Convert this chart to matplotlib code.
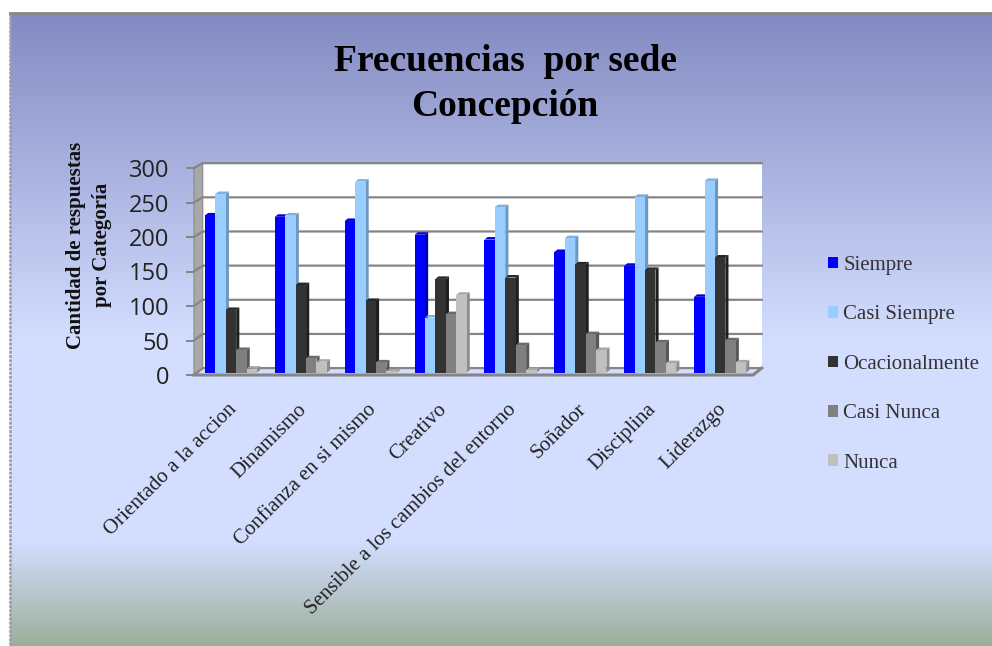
import numpy as np
import matplotlib
matplotlib.use("Agg")
import matplotlib.pyplot as plt
from matplotlib.patches import Polygon, Patch

categorias = ["Orientado a la accion", "Dinamismo", "Confianza en si mismo", "Creativo",
              "Sensible a los cambios del entorno", "Soñador", "Disciplina", "Liderazgo"]
series = ["Siempre", "Casi Siempre", "Ocacionalmente", "Casi Nunca", "Nunca"]
siempre = [228, 226, 220, 200, 193, 175, 155, 110]
casi_siempre = [259, 228, 277, 80, 240, 195, 255, 278]
ocacionalmente = [91, 127, 104, 136, 138, 157, 149, 167]
casi_nunca = [33, 21, 15, 85, 40, 56, 44, 47]
nunca = [6, 16, 2, 113, 4, 33, 14, 15]
valores = [siempre, casi_siempre, ocacionalmente, casi_nunca, nunca]

color_frente = ["#0000FF", "#99CCFF", "#333333", "#808080", "#C0C0C0"]
color_lado = ["#0000A8", "#6C97BE", "#1E1E1E", "#585858", "#8C8C8C"]
color_arriba = ["#0000D0", "#7FB0DC", "#262626", "#6A6A6A", "#A6A6A6"]

W, H = 992, 646
fig = plt.figure(figsize=(W / 100, H / 100), dpi=100)

# fondo con degradado
bg = fig.add_axes([0, 0, 1, 1])
bg.set_xlim(0, W)
bg.set_ylim(H, 0)
bg.axis("off")
filas = np.arange(13, H)
pos = [13, 340, 540, 646]
rgb = np.array([[131, 138, 194], [211, 222, 255], [211, 222, 255], [155, 175, 155]]) / 255
grad = np.stack([np.interp(filas, pos, rgb[:, i]) for i in range(3)], axis=1)[:, None, :]
bg.imshow(grad, extent=[10, W, H, 13], aspect="auto", interpolation="bilinear")
bg.set_xlim(0, W)
bg.set_ylim(H, 0)
bg.plot([10, 10], [13, H], color="#A0A0A0", lw=2, ls=(0, (1, 0.5)))
bg.plot([10, W], [13, 13], color="#858A80", lw=2)

# ejes: x en categorias, y en valores (plano frontal)
ax = fig.add_axes([194 / W, 1 - 375 / H, 559 / W, 207 / H])
ax.set_xlim(0, 8)
ax.set_ylim(0, 300)
ax.patch.set_alpha(0)
for s in ax.spines.values():
    s.set_visible(False)

prof_x, prof_y, esc_fondo = 0.125, 10.0, 0.99
gris = "#858585"

def fondo(v):
    return prof_y + v * esc_fondo

# pared del fondo y pared izquierda
ax.add_patch(Polygon([(prof_x, fondo(0)), (8 + prof_x, fondo(0)), (8 + prof_x, fondo(300)), (prof_x, fondo(300))],
                     fc="white", ec="none", clip_on=False, zorder=1))
ax.add_patch(Polygon([(0, 0), (prof_x, fondo(0)), (prof_x, fondo(300)), (0, 300)],
                     fc="#A8A8A8", ec="#8A8A8A", lw=0.8, clip_on=False, zorder=1))
ticks_y = [0, 50, 100, 150, 200, 250, 300]
for t in ticks_y:
    ax.plot([0, prof_x, 8 + prof_x], [t, fondo(t), fondo(t)], color=gris, lw=1.6, clip_on=False, zorder=2,
            solid_joinstyle="miter")
# piso
ax.plot([0, 8, 8 + prof_x], [0, 0, fondo(0)], color=gris, lw=2.2, clip_on=False, zorder=2)

# barras con caras laterales
ancho, inicio = 0.149, 0.157
dx, dy, base = 0.045, 3.6, 3.3
z = 3
for c in range(len(categorias)):
    for k in range(len(series)):
        v = valores[k][c]
        x0 = c + inicio + k * ancho
        x1 = x0 + ancho
        techo = base + v
        ax.add_patch(Polygon([(x1, base), (x1 + dx, base + dy), (x1 + dx, techo + dy), (x1, techo)],
                             fc=color_lado[k], ec="none", clip_on=False, zorder=z))
        ax.add_patch(Polygon([(x0, techo), (x0 + dx, techo + dy), (x1 + dx, techo + dy), (x1, techo)],
                             fc=color_arriba[k], ec="none", clip_on=False, zorder=z))
        ax.bar(x0, v, width=ancho, bottom=base, align="edge", color=color_frente[k], zorder=z + 0.5, clip_on=False)
        z += 1

ax.set_yticks(ticks_y)
ax.set_yticklabels([str(t) for t in ticks_y], fontfamily="Open Sans", fontsize=17, color="#222222")
ax.tick_params(axis="y", length=5.8, width=1.4, color=gris, pad=12)

ax.set_xticks(np.arange(8) + 0.48)
ax.set_xticklabels(categorias, rotation=45, ha="right", va="top", rotation_mode="anchor",
                   fontfamily="Liberation Serif", fontsize=15, color="#222222")
ax.tick_params(axis="x", length=0, pad=18)

# titulo y eje y
bg.text(505, 84, "Frecuencias  por sede\nConcepción", ha="center", va="center", fontfamily="Liberation Serif",
        fontweight="bold", fontsize=27, color="black", linespacing=1.35)
bg.text(89, 245, "Cantidad de respuestas\npor Categoría", rotation=90, ha="center", va="center",
        fontfamily="Liberation Serif", fontweight="bold", fontsize=15, color="#111111", linespacing=1.45)

# leyenda
asas = [Patch(fc=col, ec="none") for col in color_frente]
ley = fig.legend(asas, series, loc="upper left", bbox_to_anchor=(828 / W, 1 - 256 / H), frameon=False,
                 handlelength=0.48, handleheight=0.48, handletextpad=0.25, labelspacing=1.46, borderpad=0, borderaxespad=0,
                 prop={"family": "Liberation Serif", "size": 15})
for t in ley.get_texts():
    t.set_color("#333333")

fig.savefig("out.png", dpi=100)
